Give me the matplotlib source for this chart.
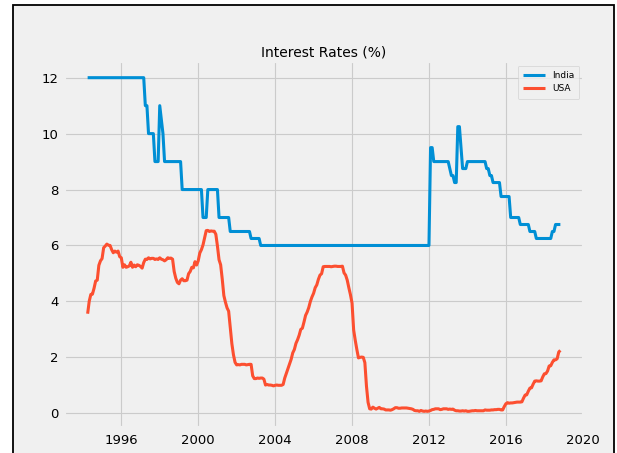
import numpy as np
import pandas as pd
import matplotlib
matplotlib.use('Agg')
import matplotlib.pyplot as plt
from matplotlib.patches import Rectangle

plt.style.use('fivethirtyeight')

# Monthly range of the data
start_month = '1994-04'
end_month = '2018-11'

# India: month of each rate change and the new rate (%)
india_change_month = ['1994-04', '1997-04', '1997-06', '1997-10', '1998-01', '1998-02',
                      '1998-03', '1998-04', '1999-03', '2000-04', '2000-07', '2001-02',
                      '2001-09', '2002-10', '2003-04', '2012-02', '2012-04', '2013-02',
                      '2013-03', '2013-05', '2013-07', '2013-09', '2013-10', '2014-01',
                      '2015-01', '2015-03', '2015-05', '2015-10', '2016-04', '2016-10',
                      '2017-04', '2017-08', '2018-06', '2018-08']
india_change_rate = [12, 11, 10, 9, 11, 10.5,
                     10, 9, 8, 7, 8, 7,
                     6.5, 6.25, 6, 9.5, 9, 8.75,
                     8.5, 8.25, 10.25, 9.5, 8.75, 9,
                     8.75, 8.5, 8.25, 7.75, 7, 6.75,
                     6.5, 6.25, 6.5, 6.75]

# USA: monthly rate (%), Apr 1994 .. Nov 2018
usa_rate = [
    3.56, 4.01, 4.25, 4.26, 4.47, 4.73, 4.76, 5.29, 5.45,              # 1994
    5.53, 5.92, 5.98, 6.05, 6.01, 6.00, 5.85, 5.74, 5.80, 5.76, 5.80, 5.60,  # 1995
    5.56, 5.22, 5.31, 5.22, 5.24, 5.27, 5.40, 5.22, 5.30, 5.24, 5.31, 5.29,  # 1996
    5.25, 5.19, 5.39, 5.51, 5.50, 5.56, 5.52, 5.54, 5.54, 5.50, 5.52, 5.50,  # 1997
    5.56, 5.51, 5.49, 5.45, 5.49, 5.56, 5.54, 5.55, 5.51, 5.07, 4.83, 4.68,  # 1998
    4.63, 4.76, 4.81, 4.74, 4.74, 4.76, 4.99, 5.07, 5.22, 5.20, 5.42, 5.30,  # 1999
    5.45, 5.73, 5.85, 6.02, 6.27, 6.53, 6.54, 6.50, 6.52, 6.51, 6.51, 6.40,  # 2000
    5.98, 5.49, 5.31, 4.80, 4.21, 3.97, 3.77, 3.65, 3.07, 2.49, 2.09, 1.82,  # 2001
    1.73, 1.74, 1.73, 1.75, 1.75, 1.75, 1.73, 1.74, 1.75, 1.75, 1.34, 1.24,  # 2002
    1.24, 1.26, 1.25, 1.26, 1.26, 1.22, 1.01, 1.03, 1.01, 1.01, 1.00, 0.98,  # 2003
    1.00, 1.01, 1.00, 1.00, 1.00, 1.03, 1.26, 1.43, 1.61, 1.76, 1.93, 2.16,  # 2004
    2.28, 2.50, 2.63, 2.79, 3.00, 3.04, 3.26, 3.50, 3.62, 3.78, 4.00, 4.16,  # 2005
    4.29, 4.49, 4.59, 4.79, 4.94, 4.99, 5.24, 5.25, 5.25, 5.25, 5.25, 5.24,  # 2006
    5.25, 5.26, 5.26, 5.25, 5.25, 5.25, 5.26, 5.02, 4.94, 4.76, 4.49, 4.24,  # 2007
    3.94, 2.98, 2.61, 2.28, 1.98, 2.00, 2.01, 2.00, 1.81, 0.97, 0.39, 0.16,  # 2008
    0.15, 0.22, 0.18, 0.15, 0.18, 0.21, 0.16, 0.16, 0.15, 0.12, 0.12, 0.12,  # 2009
    0.11, 0.13, 0.16, 0.20, 0.20, 0.18, 0.18, 0.19, 0.19, 0.19, 0.19, 0.18,  # 2010
    0.17, 0.16, 0.14, 0.10, 0.09, 0.09, 0.07, 0.10, 0.08, 0.07, 0.08, 0.07,  # 2011
    0.08, 0.10, 0.13, 0.14, 0.16, 0.16, 0.16, 0.13, 0.14, 0.16, 0.16, 0.16,  # 2012
    0.14, 0.15, 0.14, 0.15, 0.11, 0.09, 0.09, 0.08, 0.08, 0.09, 0.08, 0.09,  # 2013
    0.07, 0.07, 0.08, 0.09, 0.09, 0.10, 0.09, 0.09, 0.09, 0.09, 0.09, 0.12,  # 2014
    0.11, 0.11, 0.11, 0.12, 0.12, 0.13, 0.13, 0.14, 0.14, 0.12, 0.12, 0.24,  # 2015
    0.34, 0.38, 0.36, 0.37, 0.37, 0.38, 0.39, 0.40, 0.40, 0.40, 0.41, 0.54,  # 2016
    0.65, 0.66, 0.79, 0.90, 0.91, 1.04, 1.15, 1.16, 1.15, 1.15, 1.16, 1.30,  # 2017
    1.41, 1.42, 1.51, 1.69, 1.70, 1.82, 1.91, 1.91, 1.95, 2.19, 2.25,        # 2018
]

months = pd.period_range(start_month, end_month, freq='M')
india = pd.Series(india_change_rate, index=pd.PeriodIndex(india_change_month, freq='M'))
india = india.reindex(months).ffill()
usa = pd.Series(usa_rate, index=months)

# decimal years so the ticks land on 1996, 2000, ...
x = months.year + (months.month - 1) / 12.0

fig = plt.figure(figsize=(6.17, 4.53), dpi=100, facecolor='white')
# grey figure panel with black frame (bottom runs off the image)
fig.patches.append(Rectangle((12.5 / 617, -0.05), 601 / 617, 1 - 5.5 / 453 + 0.05,
                             transform=fig.transFigure, facecolor='#f0f0f0',
                             edgecolor='black', linewidth=1.3, zorder=-10))

ax = fig.add_axes([64 / 617, 1 - 428 / 453, 520 / 617, 367 / 453])
ax.plot(x, india.values, label='India', color='#008fd5', linewidth=2.2)
ax.plot(x, usa.values, label='USA', color='#fc4f30', linewidth=2.2)

ax.set_xticks([1996, 2000, 2004, 2008, 2012, 2016, 2020])
ax.set_yticks([0, 2, 4, 6, 8, 10, 12])
ax.tick_params(labelsize=9.5, pad=4)
ax.grid(True, color='#cbcbcb', linewidth=0.8)
ax.set_title('Interest Rates (%)', fontsize=10, pad=3)
ax.legend(loc='upper right', fontsize=6.5, handlelength=2.4, borderpad=0.6)

fig.savefig('out.png', dpi=100, facecolor=fig.get_facecolor())
